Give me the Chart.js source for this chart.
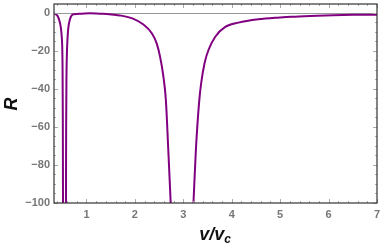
<!DOCTYPE html>
<html>
<head>
<meta charset="utf-8">
<script src="https://cdn.jsdelivr.net/npm/chart.js@4"></script>
<style>
  html, body { margin: 0; padding: 0; background: #fff; }
  #wrap { width: 382px; height: 247px; position: relative; }
</style>
</head>
<body>
<div id="wrap"><canvas id="chart"></canvas></div>
<script>
// values (null = break at the poles)
const vRatio = [0.33, 0.38, 0.413, 0.454, 0.475, 0.49, 0.5, 0.507, 0.512, 0.516, null,
  0.577, 0.581, 0.587, 0.596, 0.608, 0.625, 0.655, 0.72, 0.8, 0.9, 1.07, 1.28, 1.42, 1.69,
  1.96, 2.17, 2.35, 2.45, 2.52, 2.59, 2.64, 2.69, 2.74, null,
  3.21, 3.26, 3.33, 3.37, 3.44, 3.52, 3.66, 3.86, 4.14, 4.55, 4.9, 5.06, 5.5,
  6.1, 6.5, 7];
const rValues = [-0.3, -0.9, -2, -5.3, -8.5, -12.6, -18, -30, -55, -100, null,
  -100, -60, -35, -22, -14, -8, -3.7, -0.8, -0.5, -0.4, -0.2, -0.4, -0.5, -1.3,
  -3.0, -6.0, -10.7, -16, -23, -33.6, -45.8, -72, -100, null,
  -100, -72, -46, -36.8, -26.3, -19.5, -12.5, -7.5, -5.1, -3.3, -2.5, -2.3, -1.7,
  -1.2, -1.0, -0.9];
const xTicks = [1, 2, 3, 4, 5, 6, 7];
const yTicks = [0, -20, -40, -60, -80, -100];

const points = vRatio.map((x, i) => x === null ? { x: NaN, y: null } : { x: x, y: rValues[i] });

// frame, inward ticks, zero line and axis titles (Mathematica style)
const framePlugin = {
  id: 'frame',
  beforeDatasetsDraw(chart) {
    const { ctx, chartArea: a, scales: { y } } = chart;
    ctx.save();
    ctx.strokeStyle = '#999';
    ctx.lineWidth = 1;
    const y0 = Math.round(y.getPixelForValue(0)) + 0.5;
    ctx.beginPath();
    ctx.moveTo(a.left, y0);
    ctx.lineTo(a.right, y0);
    ctx.stroke();
    ctx.restore();
  },
  afterDraw(chart) {
    const { ctx, chartArea: a, scales: { x, y } } = chart;
    ctx.save();
    ctx.strokeStyle = '#aaa';
    ctx.lineWidth = 1;
    ctx.beginPath();
    // x ticks every 0.2, majors at integers
    for (let k = 2; k <= 35; k++) {
      const px = Math.round(x.getPixelForValue(k / 5)) + 0.5;
      const len = k % 5 === 0 ? 4 : 2;
      ctx.moveTo(px, a.bottom); ctx.lineTo(px, a.bottom - len);
      ctx.moveTo(px, a.top); ctx.lineTo(px, a.top + len);
    }
    // y ticks every 5, majors every 20
    for (let v = -100; v <= 0; v += 5) {
      const py = Math.round(y.getPixelForValue(v)) + 0.5;
      const len = v % 20 === 0 ? 4 : 2;
      ctx.moveTo(a.left, py); ctx.lineTo(a.left + len, py);
      ctx.moveTo(a.right, py); ctx.lineTo(a.right - len, py);
    }
    ctx.stroke();

    // frame box
    ctx.strokeStyle = '#333';
    ctx.lineWidth = 1.2;
    ctx.strokeRect(a.left, a.top, a.right - a.left, a.bottom - a.top);

    // axis titles
    ctx.fillStyle = '#111';
    ctx.font = 'italic bold 18px "Liberation Sans", Arial, sans-serif';
    ctx.textBaseline = 'middle';
    ctx.textAlign = 'center';
    ctx.save();
    ctx.translate(12, 104);
    ctx.rotate(-Math.PI / 2);
    ctx.fillText('R', 0, 0);
    ctx.restore();

    const main = 'v/v';
    const mw = ctx.measureText(main).width;
    ctx.font = 'italic bold 12px "Liberation Sans", Arial, sans-serif';
    const sw = ctx.measureText('c').width;
    const cx = 215 - (mw + sw) / 2;
    ctx.textAlign = 'left';
    ctx.font = 'italic bold 18px "Liberation Sans", Arial, sans-serif';
    ctx.fillText(main, cx, 235);
    ctx.font = 'italic bold 12px "Liberation Sans", Arial, sans-serif';
    ctx.fillText('c', cx + mw, 240);
    ctx.restore();
  }
};

const tickFont = { family: '"Liberation Sans", Arial, sans-serif', size: 11, weight: 'bold' };

new Chart(document.getElementById('chart'), {
  type: 'line',
  data: {
    datasets: [{
      data: points,
      borderColor: '#800080',
      borderWidth: 2,
      pointRadius: 0,
      cubicInterpolationMode: 'monotone',
      spanGaps: false,
      fill: false
    }]
  },
  options: {
    responsive: true,
    maintainAspectRatio: false,
    animation: false,
    layout: { padding: { top: 4, right: 5, left: 0, bottom: 0 } },
    plugins: { legend: { display: false }, tooltip: { enabled: false } },
    scales: {
      x: {
        type: 'linear',
        min: 0.33,
        max: 7,
        afterBuildTicks: (s) => { s.ticks = xTicks.map(v => ({ value: v })); },
        afterFit: (s) => { s.height = 44; s.paddingLeft = 0; s.paddingRight = 0; },
        grid: { display: false, drawTicks: false },
        border: { display: false },
        ticks: { color: '#777', font: tickFont, padding: 5, maxRotation: 0,
          callback: (v) => String(v) }
      },
      y: {
        min: -100,
        max: 4.7,
        afterBuildTicks: (s) => { s.ticks = yTicks.map(v => ({ value: v })); },
        afterFit: (s) => { s.width = 54; s.paddingTop = 0; s.paddingBottom = 0; },
        grid: { display: false, drawTicks: false },
        border: { display: false },
        ticks: { color: '#777', font: tickFont, padding: 4,
          callback: (v) => String(v).replace('-', '\u2212') }
      }
    }
  },
  plugins: [framePlugin]
});
</script>
</body>
</html>
